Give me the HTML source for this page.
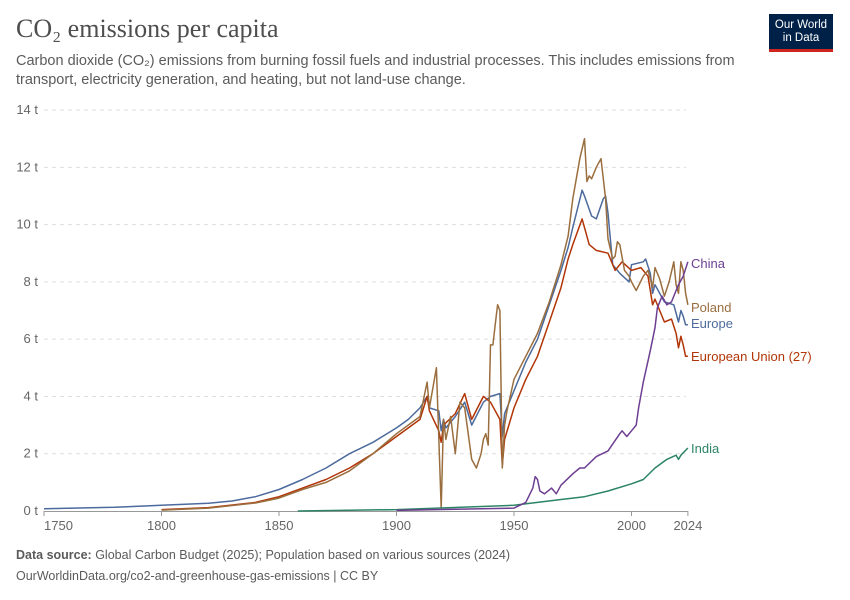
<!DOCTYPE html>
<html><head><meta charset="utf-8"><style>
body{margin:0;background:#fff;font-family:"Liberation Sans",sans-serif}
#wrap{position:relative;width:850px;height:600px;overflow:hidden}
.t{position:absolute}
</style></head><body>
<div id="wrap">
<div class="t" style="left:16px;top:14px;font-family:'Liberation Serif',serif;font-size:26px;color:#4e4e4e">CO₂ emissions per capita</div>
<div class="t" style="left:16px;top:52px;font-size:14.5px;line-height:19px;color:#5b5b5b;width:740px">Carbon dioxide (CO₂) emissions from burning fossil fuels and industrial processes. This includes emissions from transport, electricity generation, and heating, but not land-use change.</div>
<div class="t" style="left:769px;top:14px;width:64px;height:38px;background:#002147;border-bottom:3px solid #ce261e;color:#fff;font-size:11.5px;line-height:13px;text-align:center;box-sizing:border-box;padding-top:5px">Our World<br>in Data</div>
<svg class="t" style="left:0;top:0" width="850" height="600" id="chart"></svg>
<div class="t" style="left:16px;top:548px;font-size:12.5px;color:#5b5b5b"><b>Data source:</b> Global Carbon Budget (2025); Population based on various sources (2024)</div>
<div class="t" style="left:16px;top:569px;font-size:12.5px;color:#5b5b5b">OurWorldinData.org/co2-and-greenhouse-gas-emissions | CC BY</div>
</div>
<script>
const yTicks=[0,2,4,6,8,10,12,14];
const xTicks=[1750,1800,1850,1900,1950,2000,2024];
const europeYears=[1750,1780,1800,1820,1830,1840,1850,1860,1870,1880,1890,1900,1905,1910,1913,1914,1918,1919,1920,1921,1925,1929,1932,1937,1940,1944,1945,1946,1950,1955,1960,1965,1970,1973,1975,1979,1980,1983,1985,1988,1989,1990,1992,1995,1999,2000,2005,2006,2008,2009,2010,2014,2018,2020,2021,2022,2023,2024];
const europeValues=[0.08,0.13,0.2,0.27,0.35,0.5,0.75,1.1,1.5,2.0,2.4,2.9,3.2,3.6,4.0,3.6,3.5,2.8,3.2,2.9,3.3,3.8,3.0,3.8,4.0,4.1,2.6,3.4,4.2,5.2,6.0,7.2,8.4,9.2,9.9,11.2,11.0,10.3,10.2,10.9,11.0,10.4,8.6,8.3,8.0,8.6,8.7,8.8,8.3,7.6,7.9,7.3,7.2,6.6,7.0,6.8,6.5,6.5];
const euYears=[1800,1820,1840,1850,1860,1870,1880,1890,1900,1910,1913,1914,1918,1919,1920,1925,1929,1932,1937,1940,1944,1945,1946,1950,1955,1960,1965,1970,1973,1975,1979,1982,1985,1990,1993,1996,2000,2004,2007,2009,2010,2012,2014,2017,2019,2020,2021,2022,2023,2024];
const euValues=[0.05,0.12,0.3,0.5,0.8,1.1,1.5,2.0,2.6,3.2,4.0,3.5,2.8,2.4,3.0,3.4,4.1,3.2,4.0,3.8,3.2,1.6,2.5,3.6,4.6,5.4,6.6,7.8,8.8,9.3,10.2,9.3,9.1,9.0,8.4,8.7,8.4,8.5,8.2,7.2,7.4,7.0,6.6,6.7,6.2,5.7,6.1,5.8,5.4,5.4];
const polandYears=[1800,1820,1840,1850,1860,1870,1880,1890,1900,1910,1913,1914,1917,1919,1920,1921,1923,1925,1927,1929,1932,1934,1936,1937,1938,1939,1940,1941,1942,1943,1944,1945,1946,1947,1950,1955,1960,1965,1970,1973,1975,1978,1980,1981,1982,1983,1985,1987,1989,1990,1992,1993,1994,1995,1997,1999,2000,2002,2005,2007,2009,2010,2012,2014,2016,2018,2019,2020,2021,2022,2023,2024];
const polandValues=[0.03,0.1,0.28,0.45,0.75,1.0,1.4,2.0,2.7,3.3,4.5,3.6,5.0,0.1,3.2,2.5,3.3,2.0,3.8,3.6,1.8,1.5,2.0,2.5,2.7,2.3,5.8,5.8,6.5,7.2,7.0,1.5,3.0,3.5,4.6,5.4,6.2,7.3,8.6,9.6,10.9,12.3,13.0,11.5,11.7,11.6,12.0,12.3,10.9,9.5,8.8,8.9,9.4,9.3,8.4,8.2,8.0,7.7,8.2,8.4,7.8,8.5,8.1,7.5,8.0,8.7,7.9,7.6,8.7,8.4,7.6,7.2];
const chinaYears=[1900,1950,1955,1958,1959,1960,1961,1963,1966,1968,1970,1975,1978,1980,1985,1990,1995,1996,1998,2000,2002,2003,2005,2008,2010,2011,2013,2015,2017,2019,2020,2022,2024];
const chinaValues=[0.02,0.1,0.3,0.8,1.2,1.1,0.7,0.6,0.8,0.6,0.9,1.3,1.5,1.5,1.9,2.1,2.7,2.8,2.6,2.8,3.0,3.6,4.5,5.6,6.4,7.1,7.5,7.2,7.3,7.7,7.9,8.2,8.7];
const indiaYears=[1858,1900,1950,1970,1980,1990,2000,2005,2010,2015,2019,2020,2021,2024];
const indiaValues=[0,0.05,0.2,0.4,0.5,0.7,0.95,1.1,1.5,1.8,1.95,1.8,1.95,2.2];
const svg=document.getElementById('chart');const NS='http://www.w3.org/2000/svg';
const xs=y=>44+(y-1750)*2.35, ys=v=>511-v*28.64;
function mk(tag,at){const e=document.createElementNS(NS,tag);for(const k in at)e.setAttribute(k,at[k]);svg.appendChild(e);return e;}
yTicks.forEach(v=>{
 if(v>0){const g=mk('line',{x1:44,x2:686,y1:ys(v),y2:ys(v),stroke:'#ddd','stroke-dasharray':'4 4'});
 
 }
 const t=mk('text',{x:38,y:ys(v)+4,'text-anchor':'end','font-size':13,fill:'#666','font-family':'Liberation Sans'});t.textContent=v+' t';
 
 
});
const ax=mk('line',{x1:44,x2:688,y1:511.5,y2:511.5,stroke:'#999'});


xTicks.forEach((y,i)=>{
 mk('line',{x1:xs(y),x2:xs(y),y1:511,y2:516,stroke:'#999'});
 const t=mk('text',{x:i==0?44:xs(y),y:530,'text-anchor':i==0?'start':'middle','font-size':13,fill:'#666','font-family':'Liberation Sans'});t.textContent=y;
 
 
});
const series=[
 ['europe',europeYears,europeValues,'#4c6a9c','Europe',324],
 ['european-union',euYears,euValues,'#b13507','European Union (27)',357],
 ['poland',polandYears,polandValues,'#9a6e3e','Poland',308],
 ['india',indiaYears,indiaValues,'#2c8465','India',449],
 ['china',chinaYears,chinaValues,'#6d3e91','China',264]];
series.forEach(s=>{
 const d=s[1].map((y,i)=>(i?'L':'M')+xs(y).toFixed(1)+','+ys(s[2][i]).toFixed(1)).join('');
 const p=mk('path',{d:d,fill:'none',stroke:s[3],'stroke-width':1.5,'stroke-linejoin':'round'});
 
 
 const t=mk('text',{x:691,y:s[5]+4,'font-size':13,fill:s[3],'font-family':'Liberation Sans'});t.textContent=s[4];
 
 
});
</script>
</body></html>
